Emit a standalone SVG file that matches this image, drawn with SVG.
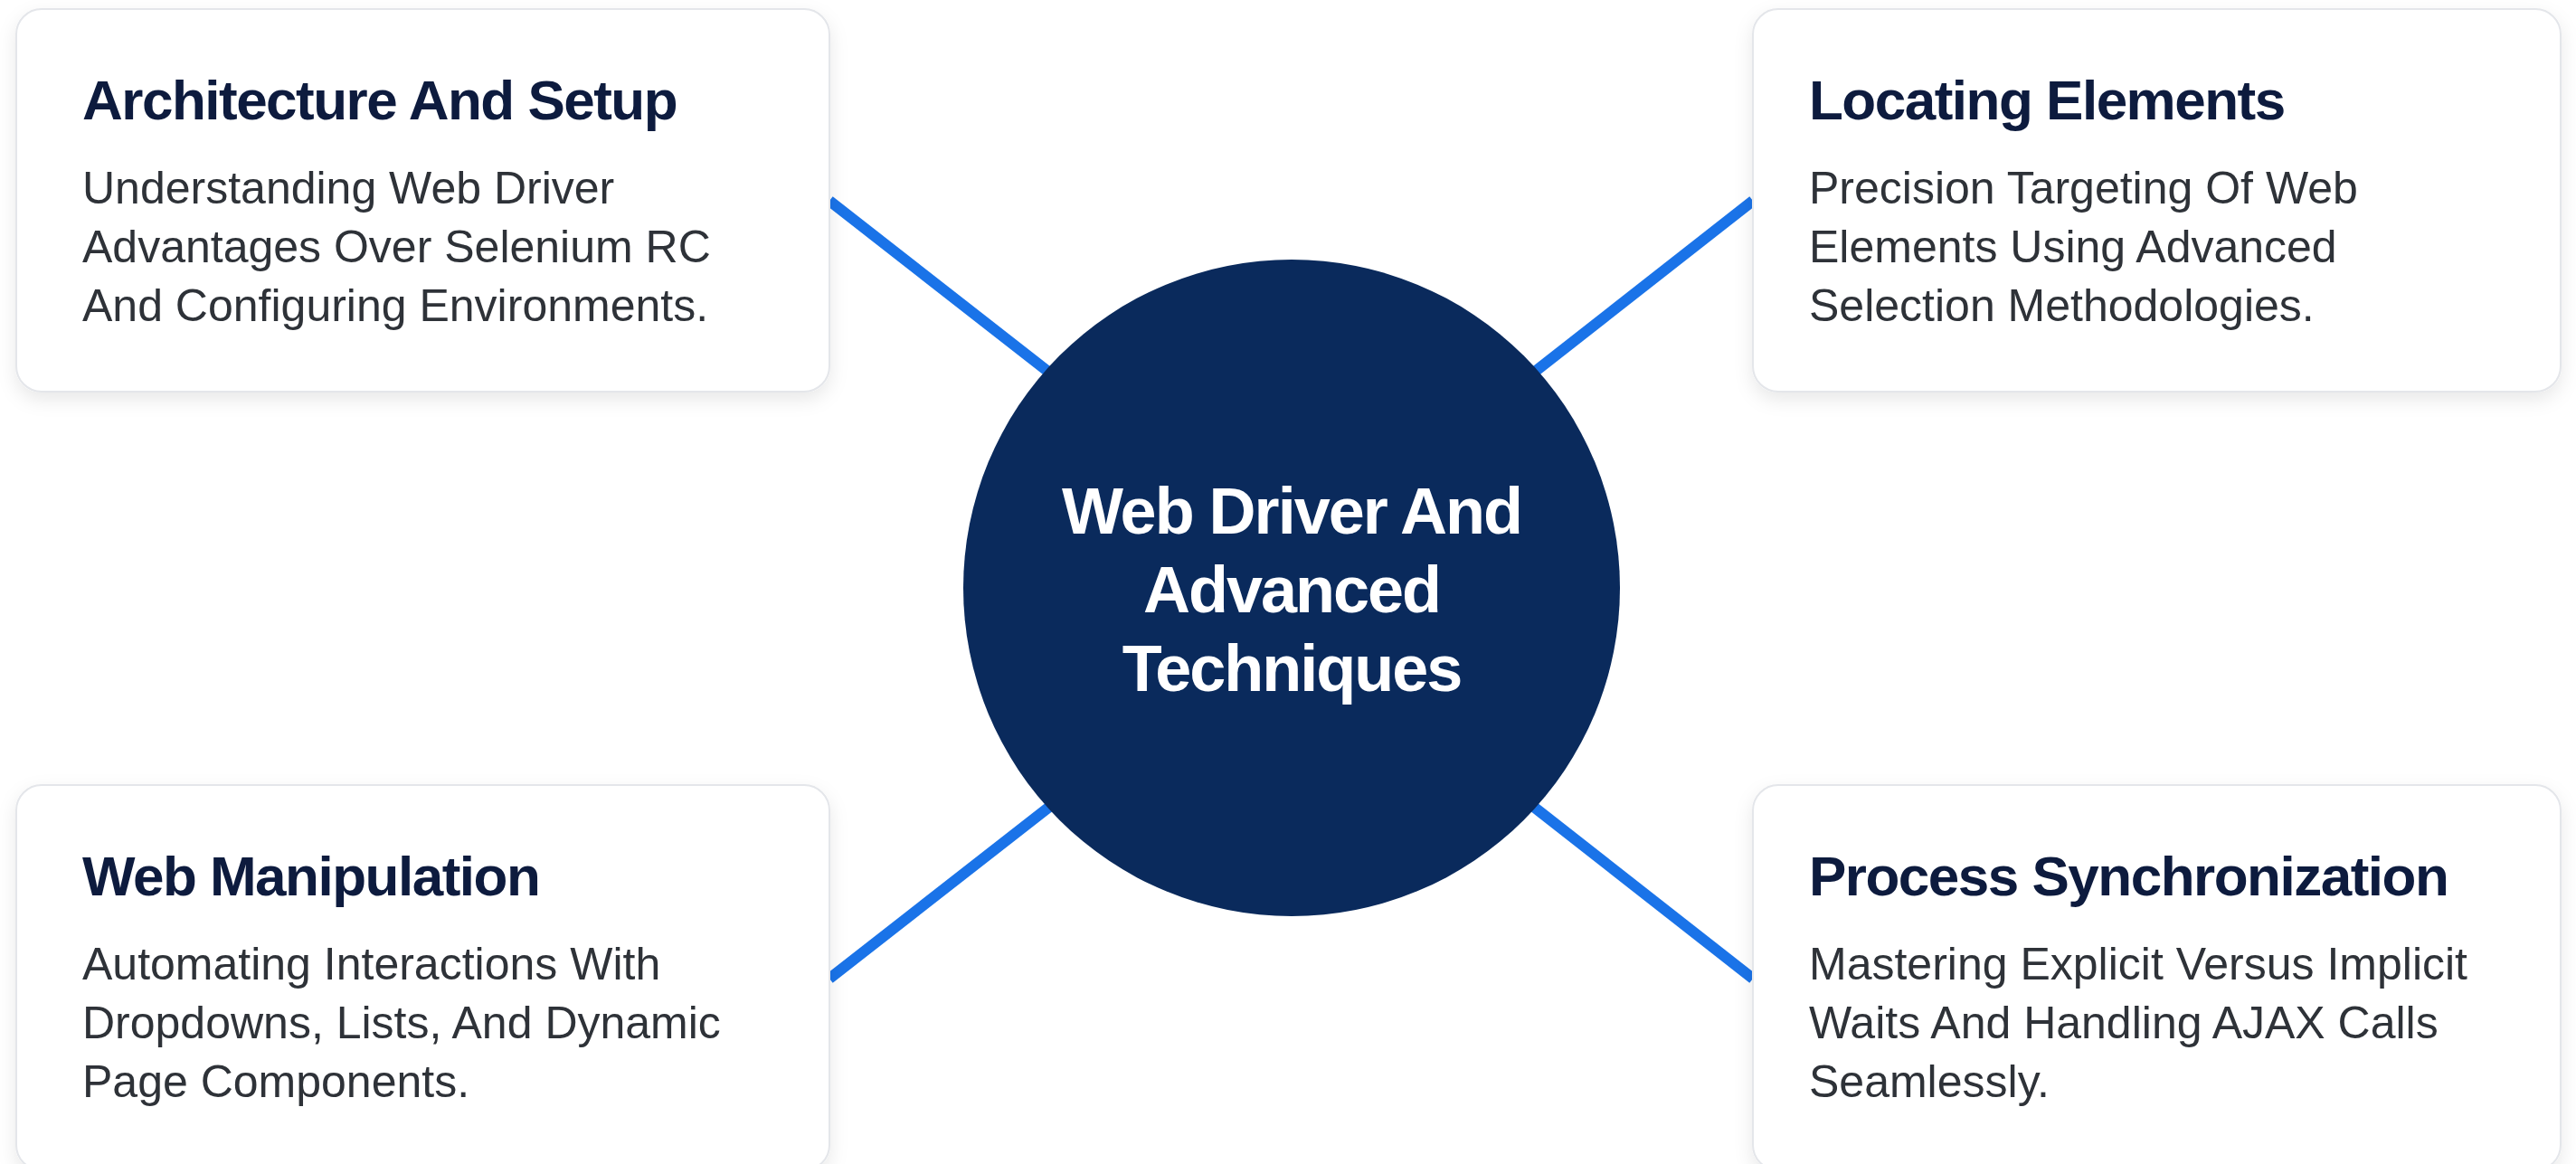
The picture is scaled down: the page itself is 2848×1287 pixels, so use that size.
<svg xmlns="http://www.w3.org/2000/svg" width="2848" height="1287" viewBox="0 0 2848 1287">
<defs>
<filter id="shadow" x="-10%" y="-10%" width="120%" height="130%">
<feDropShadow dx="0" dy="8" stdDeviation="10" flood-color="#000000" flood-opacity="0.09"/>
</filter>
<style>
.card{fill:#ffffff;stroke:#e4e6ea;stroke-width:2;filter:url(#shadow);}
.title{font-family:"Liberation Sans",Arial,sans-serif;font-weight:bold;font-size:62px;fill:#0d1b3e;letter-spacing:-1.5px;}
.body{font-family:"Liberation Sans",Arial,sans-serif;font-size:50px;fill:#2e3238;}
.conn{stroke:#1a73e8;stroke-width:12;stroke-linecap:butt;fill:none;}
.hub{fill:#0a2a5c;}
.hubtext{font-family:"Liberation Sans",Arial,sans-serif;font-weight:bold;font-size:72px;fill:#ffffff;letter-spacing:-2px;text-anchor:middle;}
</style>
</defs>
<rect width="2848" height="1287" fill="#ffffff"/>
<g id="connectors">
<line class="conn" x1="917" y1="222" x2="1200" y2="443"/>
<line class="conn" x1="1938" y1="222" x2="1656" y2="443"/>
<line class="conn" x1="917" y1="1082" x2="1200" y2="861"/>
<line class="conn" x1="1938" y1="1082" x2="1656" y2="861"/>
</g>
<g id="hub">
<circle class="hub" cx="1428" cy="650" r="363"/>
<text class="hubtext" x="1428" y="590">Web Driver And</text>
<text class="hubtext" x="1428" y="677">Advanced</text>
<text class="hubtext" x="1428" y="764">Techniques</text>
</g>
<g id="architecture-and-setup">
<rect class="card" x="18" y="10" width="899" height="423" rx="28"/>
<text class="title" x="91" y="132">Architecture And Setup</text>
<text class="body" x="91" y="225">Understanding Web Driver</text>
<text class="body" x="91" y="290">Advantages Over Selenium RC</text>
<text class="body" x="91" y="355">And Configuring Environments.</text>
</g>
<g id="locating-elements">
<rect class="card" x="1938" y="10" width="893" height="423" rx="28"/>
<text class="title" x="2000" y="132">Locating Elements</text>
<text class="body" x="2000" y="225">Precision Targeting Of Web</text>
<text class="body" x="2000" y="290">Elements Using Advanced</text>
<text class="body" x="2000" y="355">Selection Methodologies.</text>
</g>
<g id="web-manipulation">
<rect class="card" x="18" y="868" width="899" height="426" rx="28"/>
<text class="title" x="91" y="990">Web Manipulation</text>
<text class="body" x="91" y="1083">Automating Interactions With</text>
<text class="body" x="91" y="1148">Dropdowns, Lists, And Dynamic</text>
<text class="body" x="91" y="1213">Page Components.</text>
</g>
<g id="process-synchronization">
<rect class="card" x="1938" y="868" width="893" height="426" rx="28"/>
<text class="title" x="2000" y="990">Process Synchronization</text>
<text class="body" x="2000" y="1083">Mastering Explicit Versus Implicit</text>
<text class="body" x="2000" y="1148">Waits And Handling AJAX Calls</text>
<text class="body" x="2000" y="1213">Seamlessly.</text>
</g>
</svg>
